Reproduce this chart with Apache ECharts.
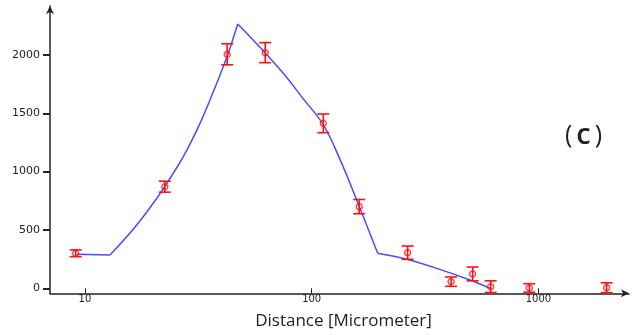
<!DOCTYPE html>
<html><head><meta charset="utf-8">
<script src="https://cdn.jsdelivr.net/npm/echarts@6/dist/echarts.min.js"></script>
<style>html,body{margin:0;padding:0;background:#fff}#c{width:635px;height:335px}</style>
</head><body><div id="c"></div>
<script>
// Measured points (distance in micrometer) with symmetric error
const distance = [9.1, 22.5, 42.4, 62.4, 112.5, 162, 265, 412, 513, 616, 912, 2000];
const measured = [300, 871, 2006, 2020, 1414, 700, 305, 57, 123, 14, 3, 5];
const errors   = [29, 47, 90, 86, 80, 61, 57, 40, 59, 50, 36, 42];
// Model curve, in four pieces (kinks between them)
const fitFlatDistance  = [9.22, 12.89];
const fitFlatValue     = [291, 285];
const fitRiseDistance  = [12.89, 16.33, 19.35, 22.54, 27.14, 32.16, 36.81, 40.74, 42.87, 47.17];
const fitRiseValue     = [285, 507, 691, 875, 1128, 1414, 1685, 1900, 2015, 2266];
const fitFallDistance  = [47.17, 51.32, 62.42, 77.03, 91.27, 112.2, 133.3, 162.2, 179.6, 195.5];
const fitFallValue     = [2266, 2193, 2017, 1815, 1630, 1405, 1105, 700, 483, 300];
const fitTailDistance  = [195.5, 262.4, 355.9, 499.3, 611.7];
const fitTailValue     = [300, 249, 171, 71, 0];
const xTicks = [10, 100, 1000];
const yTicks = [0, 500, 1000, 1500, 2000];
const xTitle = 'Distance [Micrometer]';

const chart = echarts.init(document.getElementById('c'), null, {renderer: 'canvas'});
const axisColor = '#222';
const blue = '#4b4bff';
function piece(xs, ys, smooth) {
  return {
    type: 'line', data: xs.map((d, i) => [d, ys[i]]),
    showSymbol: false, symbol: 'none', smooth: smooth,
    lineStyle: {color: blue, width: 1.5}, z: 2
  };
}
chart.setOption({
  animation: false,
  grid: {left: 50, right: 6, top: 6, bottom: 41.7, containLabel: false, outerBoundsMode: 'none'},
  xAxis: {
    type: 'log', logBase: 10, min: 7.01, max: 2510,
    name: xTitle, nameLocation: 'middle', nameGap: 19, nameMoveOverlap: false,
    nameTextStyle: {fontFamily: 'Open Sans', fontSize: 17, color: '#222', padding: [0, 0, 0, 8]},
    axisLine: {show: true, onZero: false, symbol: ['none', 'arrow'], symbolSize: [6, 8],
               lineStyle: {color: axisColor, width: 1.5}},
    axisTick: {show: true, inside: true, length: 5, customValues: xTicks,
               lineStyle: {color: axisColor, width: 1}},
    axisLabel: {customValues: xTicks, margin: 1, fontFamily: 'DejaVu Sans', fontSize: 10, color: '#222',
                formatter: v => String(Math.round(v))},
    splitLine: {show: false}, minorTick: {show: false}
  },
  yAxis: {
    type: 'value', min: -43, max: 2420,
    axisLine: {show: true, onZero: false, symbol: ['none', 'arrow'], symbolSize: [6, 8],
               lineStyle: {color: axisColor, width: 1.5}},
    axisTick: {show: true, inside: false, length: 7, customValues: yTicks,
               lineStyle: {color: axisColor, width: 2}},
    axisLabel: {customValues: yTicks, margin: 10, fontFamily: 'DejaVu Sans', fontSize: 11, color: '#222',
                formatter: v => String(Math.round(v))},
    splitLine: {show: false}
  },
  graphic: [{
    type: 'text', left: 565, top: 121,
    style: {
      text: '{p|(}{c|c}{p|)}',
      rich: {
        p: {fontFamily: 'Open Sans', fontSize: 25, fill: '#222', color: '#222', lineHeight: 33},
        c: {fontFamily: 'Open Sans', fontSize: 29, fontWeight: 600, fill: '#222', color: '#222',
            lineHeight: 33, padding: [0, 4, 0, 4]}
      }
    }
  }],
  series: [
    piece(fitFlatDistance, fitFlatValue, false),
    piece(fitRiseDistance, fitRiseValue, 0.3),
    piece(fitFallDistance, fitFallValue, 0.4),
    piece(fitTailDistance, fitTailValue, 0.3),
    {
      type: 'custom', z: 3,
      data: distance.map((d, i) => [d, measured[i] - errors[i], measured[i] + errors[i]]),
      encode: {x: 0, y: [1, 2]},
      renderItem: function (params, api) {
        const x = api.value(0);
        const lo = api.coord([x, api.value(1)]);
        const hi = api.coord([x, api.value(2)]);
        const hw = 6;
        const st = {stroke: '#ff1010', lineWidth: 1.6};
        return {type: 'group', children: [
          {type: 'line', shape: {x1: lo[0], y1: lo[1], x2: hi[0], y2: hi[1]}, style: st},
          {type: 'line', shape: {x1: lo[0] - hw, y1: lo[1], x2: lo[0] + hw, y2: lo[1]}, style: st},
          {type: 'line', shape: {x1: hi[0] - hw, y1: hi[1], x2: hi[0] + hw, y2: hi[1]}, style: st}
        ]};
      }
    },
    {
      type: 'scatter', z: 4, symbol: 'circle', symbolSize: 6,
      data: distance.map((d, i) => [d, measured[i]]),
      itemStyle: {color: 'rgba(255,255,255,0)', borderColor: '#ff1010', borderWidth: 1.4}
    }
  ]
});
</script>
</body></html>
